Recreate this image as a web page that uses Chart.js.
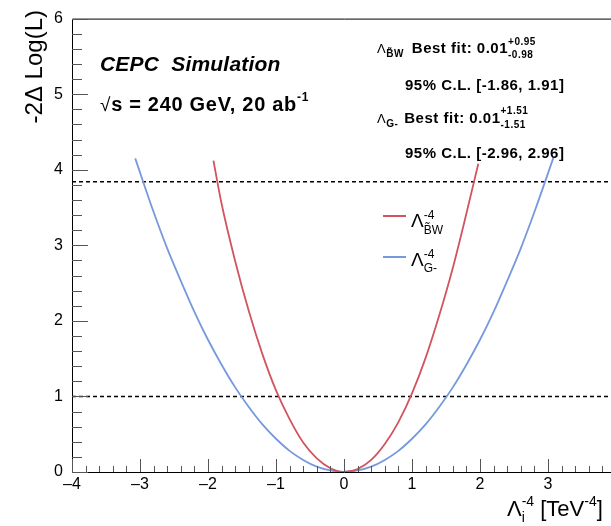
<!DOCTYPE html>
<html>
<head>
<meta charset="utf-8">
<script src="https://cdn.jsdelivr.net/npm/chart.js@4.4.1/dist/chart.umd.min.js"></script>
<style>
  html, body { margin: 0; padding: 0; background: #fff; overflow: hidden; }
  #wrap { width: 611px; height: 526px; overflow: hidden; }
</style>
</head>
<body>
<div id="wrap"><canvas id="nllChart" width="630" height="526"></canvas></div>
<script>
// values
const redX  = [-1.92, -1.8, -1.6, -1.4, -1.2, -1.0, -0.8, -0.6, -0.4, -0.2, 0, 0.2, 0.4, 0.6, 0.8, 1.0, 1.2, 1.4, 1.6, 1.8, 1.975];
const redY  = [4.12, 3.55, 2.79, 2.13, 1.56, 1.08, 0.70, 0.39, 0.18, 0.05, 0, 0.04, 0.16, 0.37, 0.66, 1.04, 1.51, 2.07, 2.70, 3.42, 4.08];
const blueX = [-3.07, -2.8, -2.6, -2.4, -2.2, -2.0, -1.8, -1.6, -1.4, -1.2, -1.0, -0.8, -0.6, -0.4, -0.2, 0, 0.2, 0.4, 0.6, 0.8, 1.0, 1.2, 1.4, 1.6, 1.8, 2.0, 2.2, 2.4, 2.6, 2.8, 3.08];
const blueY = [4.15, 3.44, 2.96, 2.53, 2.12, 1.75, 1.42, 1.12, 0.86, 0.63, 0.44, 0.28, 0.16, 0.07, 0.02, 0, 0.02, 0.07, 0.16, 0.28, 0.44, 0.63, 0.86, 1.12, 1.42, 1.75, 2.12, 2.53, 2.96, 3.44, 4.16];
const refLevels = [1, 3.84];
const xRange = [-4, 4];
const yRange = [0, 6];

const RED = '#d2545e';
const BLUE = '#7699dd';
const FONT = '"Liberation Sans", Arial, sans-serif';

function pts(xs, ys) {
    return xs.map((x, i) => ({ x: x, y: ys[i] }));
}

// draw a run of text pieces; a piece with up/dn is a stacked super/subscript
function richText(ctx, x, y, parts, spacing) {
    let cx = x;
    ctx.letterSpacing = (spacing || 0) + 'px';
    parts.forEach(p => {
        if (p.up || p.dn) {
            let w = 0;
            [p.up, p.dn].forEach(q => {
                if (!q) return;
                ctx.font = q.f;
                ctx.fillText(q.t, cx, y + q.dy);
                w = Math.max(w, ctx.measureText(q.t).width);
            });
            cx += w;
        } else {
            ctx.font = p.f;
            ctx.fillText(p.t, cx, y + (p.dy || 0));
            cx += ctx.measureText(p.t).width + (p.gap || 0);
        }
    });
    ctx.letterSpacing = '0px';
    return cx;
}

const rootStyle = {
    id: 'rootStyle',
    afterDraw(chart) {
        const ctx = chart.ctx;
        const xs = chart.scales.x, ys = chart.scales.y;
        const { left, right, top, bottom } = chart.chartArea;
        ctx.save();

        // frame
        ctx.strokeStyle = '#000';
        ctx.lineWidth = 1;
        ctx.beginPath();
        ctx.moveTo(left + 0.5, top + 0.5);
        ctx.lineTo(right + 0.5, top + 0.5);
        ctx.lineTo(right + 0.5, bottom + 0.5);
        ctx.lineTo(left + 0.5, bottom + 0.5);
        ctx.closePath();
        ctx.stroke();

        // inward ticks
        ctx.strokeStyle = '#555';
        ctx.beginPath();
        for (let i = xRange[0] * 5; i <= xRange[1] * 5; i++) {
            const px = Math.round(xs.getPixelForValue(i / 5)) + 0.5;
            const len = i % 5 === 0 ? 13 : 6;
            ctx.moveTo(px, bottom);
            ctx.lineTo(px, bottom - len);
        }
        for (let i = yRange[0] * 5; i <= yRange[1] * 5; i++) {
            const py = Math.round(ys.getPixelForValue(i / 5)) + 0.5;
            const len = i % 5 === 0 ? 16 : 10;
            ctx.moveTo(left, py);
            ctx.lineTo(left + len, py);
        }
        ctx.stroke();

        ctx.fillStyle = '#000';
        ctx.textAlign = 'left';
        ctx.textBaseline = 'alphabetic';

        // experiment labels
        richText(ctx, 100, 71, [{ t: 'CEPC  Simulation', f: 'italic bold 21px ' + FONT }], 0.2);
        richText(ctx, 100, 111, [
            { t: '\u221A', f: '19px ' + FONT },
            { t: 's = 240 GeV, 20 ab', f: 'bold 20px ' + FONT },
            { t: '-1', f: 'bold 12px ' + FONT, dy: -10 }
        ], 0.7);

        // fit results
        const big = 'bold 15px ' + FONT;
        const small = 'bold 10px ' + FONT;
        richText(ctx, 377, 53, [
            { t: '\u039B', f: '13px ' + FONT },
            { t: 'B\u0303W', f: 'bold 10px ' + FONT, dy: 4, gap: 8 },
            { t: 'Best fit: 0.01', f: big },
            { up: { t: '+0.95', f: small, dy: -8 }, dn: { t: '-0.98', f: small, dy: 5 } }
        ], 0.5);
        richText(ctx, 405, 90, [{ t: '95% C.L. [-1.86, 1.91]', f: big }], 0.5);
        richText(ctx, 377, 123, [
            { t: '\u039B', f: '13px ' + FONT },
            { t: 'G-', f: 'bold 10px ' + FONT, dy: 4, gap: 6 },
            { t: 'Best fit: 0.01', f: big },
            { up: { t: '+1.51', f: small, dy: -9 }, dn: { t: '-1.51', f: small, dy: 5 } }
        ], 0.5);
        richText(ctx, 405, 158, [{ t: '95% C.L. [-2.96, 2.96]', f: big }], 0.5);

        // legend
        ctx.lineWidth = 2;
        ctx.strokeStyle = RED;
        ctx.beginPath(); ctx.moveTo(383, 216); ctx.lineTo(406, 216); ctx.stroke();
        ctx.strokeStyle = BLUE;
        ctx.beginPath(); ctx.moveTo(383, 257); ctx.lineTo(406, 257); ctx.stroke();
        richText(ctx, 411, 227, [
            { t: '\u039B', f: '19px ' + FONT },
            { up: { t: '-4', f: '12px ' + FONT, dy: -8 }, dn: { t: 'B\u0303W', f: '12px ' + FONT, dy: 7 } }
        ]);
        richText(ctx, 411, 266, [
            { t: '\u039B', f: '19px ' + FONT },
            { up: { t: '-4', f: '12px ' + FONT, dy: -8 }, dn: { t: 'G-', f: '12px ' + FONT, dy: 6 } }
        ]);

        // axis titles
        richText(ctx, 507, 516, [
            { t: '\u039B', f: '22px ' + FONT },
            { up: { t: '-4', f: '14px ' + FONT, dy: -10 }, dn: { t: 'i', f: '14px ' + FONT, dy: 6 } },
            { t: ' [TeV', f: '22px ' + FONT },
            { t: '-4', f: '14px ' + FONT, dy: -10 },
            { t: ']', f: '22px ' + FONT }
        ]);
        ctx.save();
        ctx.translate(42, 10);
        ctx.rotate(-Math.PI / 2);
        ctx.textAlign = 'right';
        ctx.font = '24px ' + FONT;
        ctx.fillText('-2\u0394 Log(L)', 0, 0);
        ctx.restore();

        ctx.restore();
    }
};

const datasets = [
    {
        data: pts(redX, redY),
        borderColor: RED,
        borderWidth: 1.8,
        pointRadius: 0,
        cubicInterpolationMode: 'monotone'
    },
    {
        data: pts(blueX, blueY),
        borderColor: BLUE,
        borderWidth: 1.8,
        pointRadius: 0,
        cubicInterpolationMode: 'monotone'
    }
];
refLevels.forEach(level => {
    datasets.push({
        data: pts(xRange, [level, level]),
        borderColor: '#000',
        borderWidth: 1.6,
        borderDash: [4, 3],
        pointRadius: 0
    });
});

const fmt = v => (v < 0 ? '\u2013' + Math.abs(v) : String(v));

new Chart(document.getElementById('nllChart'), {
    type: 'line',
    data: { datasets: datasets },
    options: {
        responsive: false,
        animation: false,
        layout: { padding: { top: 13, right: 14, left: 0, bottom: 0 } },
        plugins: { legend: { display: false }, tooltip: { enabled: false } },
        scales: {
            x: {
                type: 'linear',
                min: xRange[0],
                max: xRange[1],
                grid: { display: false, drawTicks: false },
                border: { display: false },
                ticks: {
                    stepSize: 1,
                    padding: 3,
                    color: '#000',
                    font: { family: FONT, size: 16 },
                    maxRotation: 0,
                    callback: fmt
                },
                afterFit: s => { s.height = 54; }
            },
            y: {
                min: yRange[0],
                max: yRange[1],
                grid: { display: false, drawTicks: false },
                border: { display: false },
                ticks: {
                    stepSize: 1,
                    padding: 9,
                    color: '#000',
                    font: { family: FONT, size: 16 },
                    callback: fmt
                },
                afterFit: s => { s.width = 72; }
            }
        }
    },
    plugins: [rootStyle]
});
</script>
</body>
</html>
